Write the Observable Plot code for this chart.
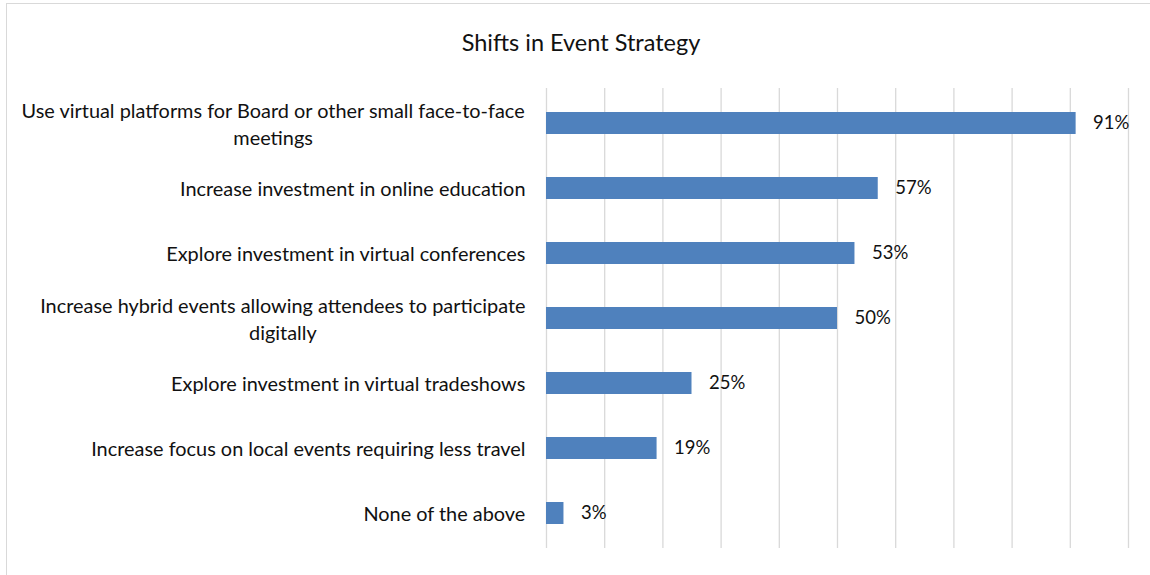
<!DOCTYPE html>
<html>
<head>
<meta charset="utf-8">
<script src="https://cdn.jsdelivr.net/npm/d3@7"></script>
<script src="https://cdn.jsdelivr.net/npm/@observablehq/plot@0.6"></script>
<style>
  body { margin: 0; background: #fff; font-family: Lato, "Open Sans", sans-serif; }
  #chart { position: absolute; left: 6px; top: 3px; width: 1150px; height: 580px;
           border: 1px solid #d9d9d9; box-sizing: border-box; background: #fff; }
  #title { position: absolute; left: 0; top: 24px; width: 1148px; text-align: center;
           font-size: 23.5px; line-height: 28px; color: #111; }
  #plot { position: absolute; left: 0; top: 66px; }
</style>
</head>
<body>
<div id="chart">
  <div id="title">Shifts in Event Strategy</div>
  <div id="plot"></div>
</div>
<script>
const categories = [
  "Use virtual platforms for Board or other small face-to-face\nmeetings",
  "Increase investment in online education",
  "Explore investment in virtual conferences",
  "Increase hybrid events allowing attendees to participate\ndigitally",
  "Explore investment in virtual tradeshows",
  "Increase focus on local events requiring less travel",
  "None of the above"
];
const values = [91, 57, 53, 50, 25, 19, 3];

const data = categories.map((c, i) => ({label: c, value: values[i]}));

const fs = 19.9;
const valueFs = 18.5;
const fontFamily = "Lato";
const ctx = document.createElement("canvas").getContext("2d");
ctx.font = `${fs}px ${fontFamily}`;
const labelGap = 21;

const labelMarks = categories.map(c => {
  const w = d3.max(c.split("\n"), line => ctx.measureText(line).width);
  return Plot.text([c], {
    y: d => d,
    text: d => d,
    frameAnchor: "left",
    textAnchor: "middle",
    dx: -(labelGap + w / 2),
    dy: -1,
    fontSize: fs,
    lineHeight: 27 / fs,
    fill: "#111"
  });
});

const chart = Plot.plot({
  width: 1143,
  height: 505,
  marginTop: 18,
  marginBottom: 27,
  marginLeft: 539,
  marginRight: 22,
  style: { fontFamily: fontFamily, fontSize: fs + "px", background: "transparent", overflow: "visible" },
  x: { domain: [0, 100], axis: null },
  y: { domain: categories, axis: null, paddingInner: 0.665, paddingOuter: 0.3325 },
  marks: [
    Plot.gridX({ ticks: 10, stroke: "#d9d9d9", strokeOpacity: 1, strokeWidth: 1.3 }),
    Plot.barX(data, { x: "value", y: "label", fill: "#4f81bd" }),
    Plot.text(data, { x: "value", y: "label", text: d => d.value + "%", textAnchor: "start", dx: 17, fontSize: valueFs, fill: "#111" }),
    ...labelMarks
  ]
});
document.getElementById("plot").appendChild(chart);
</script>
</body>
</html>
